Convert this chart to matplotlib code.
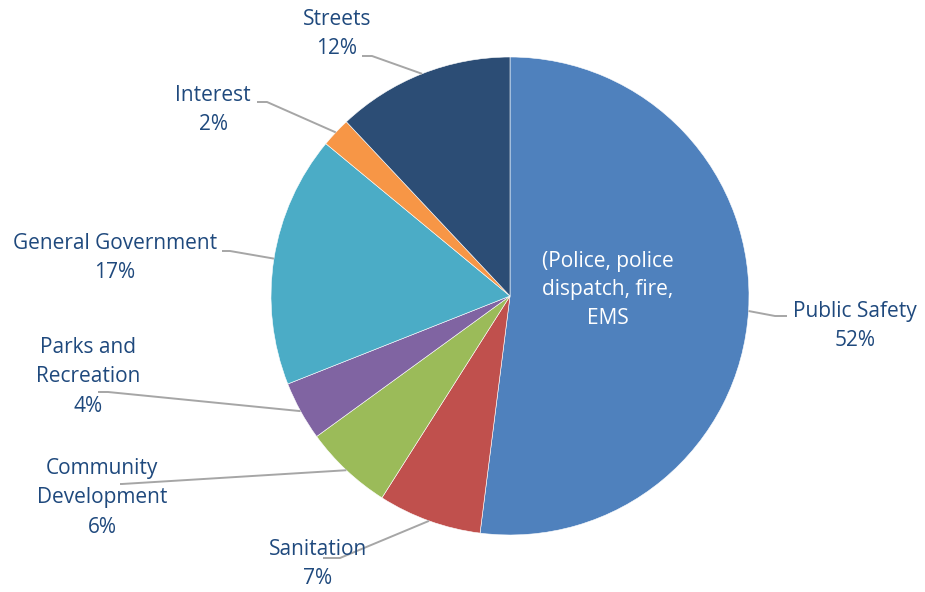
import numpy as np
import matplotlib
matplotlib.use('Agg')
import matplotlib.pyplot as plt

# data
categories = ['Public Safety', 'Sanitation', 'Community\nDevelopment', 'Parks and\nRecreation',
              'General Government', 'Interest', 'Streets']
shares = [52, 7, 6, 4, 17, 2, 12]
colors = ['#4F81BD', '#C0504D', '#9BBB59', '#8064A2', '#4BACC6', '#F79646', '#2C4D75']
note = '(Police, police\ndispatch, fire,\nEMS'

W, H = 925, 592
text_color = '#1F497D'
line_color = '#A6A6A6'
plt.rcParams['font.family'] = ['Open Sans', 'DejaVu Sans']

fig = plt.figure(figsize=(W / 100, H / 100), dpi=100)
ax = fig.add_axes([0, 0, 1, 1])

cx, cy, r = 510, H - 296, 239
wedges, _ = ax.pie(shares, colors=colors, startangle=90, counterclock=False,
                   center=(cx, cy), radius=r, frame=True,
                   wedgeprops=dict(edgecolor='white', linewidth=0.4))
ax.set_xlim(0, W)
ax.set_ylim(0, H)
ax.set_aspect('equal')
ax.axis('off')

# label layout in pixel coords (x, y from top): text centre, elbow start, elbow end
layout = {
    'Public Safety':         ((855, 326), (787, 316), (775, 316)),
    'Sanitation':            ((318, 564), (323, 558), (340, 558)),
    'Community\nDevelopment': ((102, 498), (120, 484), (122, 484)),
    'Parks and\nRecreation':  ((88, 377), (98, 392), (108, 392)),
    'General Government':    ((115, 258), (222, 251), (230, 251)),
    'Interest':              ((213, 110), (257, 102), (267, 102)),
    'Streets':               ((337, 34), (362, 56), (372, 56)),
}

for w, cat, val in zip(wedges, categories, shares):
    (tx, ty), (ax0, ay0), (ax1, ay1) = layout[cat]
    mid = np.deg2rad((w.theta1 + w.theta2) / 2)
    ex, ey = cx + r * np.cos(mid), cy + r * np.sin(mid)
    ax.plot([ax0, ax1, ex], [H - ay0, H - ay1, ey], color=line_color, lw=1.4,
            solid_capstyle='butt', zorder=1)
    ax.text(tx, H - ty, f'{cat}\n{val}%', ha='center', va='center', fontsize=15,
            color=text_color, linespacing=1.55)

ax.text(608, H - 290, note, ha='center', va='center', fontsize=15,
        color='white', linespacing=1.5)

fig.savefig('out.png', dpi=100)
